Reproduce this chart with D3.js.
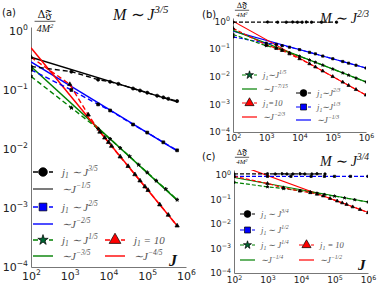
<!DOCTYPE html>
<html>
<head>
<meta charset="utf-8">
<script src="https://cdn.jsdelivr.net/npm/d3@7"></script>
<style>body{margin:0;background:#fff}</style>
</head>
<body>
<svg id="fig" width="381" height="286"></svg>
<script>
// ---- panel (a): M ~ J^{3/5}
var aJBlack = [100, 1100, 5400, 11000, 18000, 43000, 65000, 100000, 180000, 260000, 350000, 590000];
var aYBlack = [0.25, 0.205, 0.15, 0.138, 0.127, 0.106, 0.098, 0.09, 0.08, 0.075, 0.071, 0.065];
var aJBlue = [100, 1100, 5400, 11000, 43000, 100000, 260000, 590000];
var aYBlue = [0.22, 0.1, 0.057, 0.045, 0.026, 0.019, 0.013, 0.0095];
var aJGreen = [100, 1100, 5400, 11000, 20000, 35000, 60000, 100000, 170000, 300000, 590000];
var aYGreen = [0.17, 0.05, 0.022, 0.0148, 0.0104, 0.0075, 0.0054, 0.004, 0.0029, 0.0021, 0.00138];
var aJRed = [100, 1000, 3000, 6000, 8000, 10000, 12000, 20000, 32000, 48000, 65000, 87000, 105000, 210000, 350000, 590000];
var aYRed = [0.36, 0.125, 0.038, 0.0195, 0.0155, 0.013, 0.0112, 0.0074, 0.0051, 0.0037, 0.0029, 0.0023, 0.002, 0.00114, 0.00076, 0.0005];
var aFitBlack = [[100, 0.36], [590000, 0.063]];
var aFitBlue = [[100, 0.3], [590000, 0.0093]];
var aFitGreen = [[100, 0.25], [590000, 0.00136]];
var aFitRed = [[100, 0.52], [590000, 0.0005]];
var aLabels = ["j_1 ∼ J^{3/5}", "∼J^{−1/5}", "j_1 ∼ J^{2/5}", "∼J^{−2/5}", "j_1 ∼ J^{1/5}", "∼J^{−3/5}", "j_1 = 10", "∼J^{−4/5}"];

// ---- panel (b): M ~ J^{2/3}
var bJBlack = [100, 1100, 2200, 4000, 6200, 8700, 12000, 16000, 23000, 46000, 130000];
var bYBlack = [0.92, 0.93, 0.92, 0.92, 0.93, 0.92, 0.92, 0.93, 0.92, 0.92, 0.92];
var bJ = [100, 1000, 2000, 3000, 5000, 10000, 20000, 30000, 50000, 100000, 200000, 300000, 500000, 1000000];
var bYBlue = [0.27, 0.16, 0.145, 0.13, 0.115, 0.094, 0.075, 0.066, 0.055, 0.044, 0.035, 0.0305, 0.0257, 0.0204];
var bYGreen = [0.33, 0.13, 0.105, 0.09, 0.073, 0.054, 0.0396, 0.0328, 0.0259, 0.0187, 0.0135, 0.0112, 0.0088, 0.0064];
var bYRed = [0.55, 0.14, 0.105, 0.088, 0.066, 0.044, 0.029, 0.0223, 0.0159, 0.01, 0.0063, 0.0048, 0.0034, 0.00215];
var bFitBlue = [[100, 0.44], [1000000, 0.0204]];
var bFitGreen = [[100, 0.47], [1000000, 0.0064]];
var bFitRed = [[100, 1.0], [1000000, 0.00215]];
var bLabels = ["j_1∼J^{1/5}", "∼J^{−7/15}", "j_1=10", "∼J^{−2/3}", "j_1∼J^{2/3}", "j_1∼J^{1/3}", "∼J^{−1/3}"];

// ---- panel (c): M ~ J^{3/4}
var cJBlack = [100, 1000, 1700, 2700, 3800, 5700, 9300, 13000, 21000, 30000, 52000];
var cYBlack = [1.1, 1.12, 1.1, 1.12, 1.1, 1.1, 1.12, 1.1, 1.1, 1.12, 1.1];
var cJBlue = [100, 1000, 5000, 20000, 50000, 100000, 300000, 1000000];
var cYBlue = [0.88, 0.88, 0.88, 0.88, 0.88, 0.88, 0.88, 0.88];
var cJGreen = [100, 1000, 3000, 9300, 19000, 30000, 50000, 100000, 200000, 400000, 1000000];
var cYGreen = [0.5, 0.33, 0.28, 0.23, 0.2, 0.18, 0.16, 0.137, 0.116, 0.098, 0.079];
var cJRed = [100, 1000, 3000, 9300, 19000, 30000, 46000, 74000, 120000, 170000, 230000, 350000, 580000, 1000000];
var cYRed = [0.88, 0.45, 0.3, 0.22, 0.19, 0.165, 0.14, 0.11, 0.087, 0.073, 0.063, 0.05, 0.039, 0.029];
var cFitGreen = [[100, 0.79], [1000000, 0.079]];
var cFitRed = [[100, 3.0], [1000000, 0.03]];
var cLabels = ["j_1 ∼ J^{3/4}", "j_1 ∼ J^{1/2}", "j_1 ∼ J^{1/4}", "∼J^{−1/4}", "j_1 = 10", "∼J^{−1/2}"];

var xTicks = [1e2, 1e3, 1e4, 1e5, 1e6];
var yTicks = [1, 1e-1, 1e-2, 1e-3, 1e-4];

var svg = d3.select("#fig");
var RED = "#ff0000", GREEN = "#008000", BLUE = "#0000ff";

// text with _x and ^{..} parts as tspans
function rich(g, x, y, str, size, opt) {
  opt = opt || {};
  var t = g.append("text").attr("x", x).attr("y", y)
    .attr("font-size", size)
    .attr("font-family", opt.family || "DejaVu Sans")
    .attr("font-style", opt.italic ? "italic" : null)
    .attr("font-weight", opt.weight || null)
    .attr("fill", opt.fill || "#222")
    .attr("text-anchor", opt.anchor || "start");
  var re = /([_^])(\{[^}]*\}|.)|([^_^]+)/g, cur = 0, m;
  while ((m = re.exec(str))) {
    if (m[3]) { t.append("tspan").attr("dy", -cur).text(m[3]); cur = 0; }
    else {
      var s = m[1] === "^" ? -0.42 * size : 0.22 * size;
      t.append("tspan").attr("dy", s - cur).attr("font-size", size * 0.68).text(m[2].replace(/[{}]/g, ""));
      cur = s;
    }
  }
  return t;
}

function sym(g, type, cx, cy, size, fill) {
  // d3's star is drawn much bigger than the others at equal area
  var s = type === d3.symbolStar ? size * 0.55 : size;
  g.append("path")
    .attr("d", d3.symbol().type(type).size(s)())
    .attr("transform", "translate(" + cx + "," + cy + ")")
    .attr("fill", fill).attr("stroke", "#000").attr("stroke-width", 0.7);
}

function zip(js, ys) { return js.map(function(j, i) { return [j, ys[i]]; }); }

function panel(p) {
  var x = d3.scaleLog().domain([1e2, 1e6]).range([p.left, p.right]);
  var y = d3.scaleLog().domain([1e-4, p.ytop]).range([p.bottom, p.top]);
  var g = svg.append("g");

  svg.append("clipPath").attr("id", "clip" + p.name).append("rect")
    .attr("x", p.left).attr("y", p.top)
    .attr("width", p.right - p.left).attr("height", p.bottom - p.top);

  var expo = function(d) { return Math.round(Math.log10(d)); };

  var ax = g.append("g").attr("transform", "translate(0," + p.bottom + ")")
    .call(d3.axisBottom(x).tickValues(xTicks).tickSize(0).tickSizeOuter(0)
      .tickPadding(p.xpad).tickFormat(function() { return ""; }));
  var ay = g.append("g").attr("transform", "translate(" + p.left + ",0)")
    .call(d3.axisLeft(y).tickValues(yTicks).tickSize(0).tickSizeOuter(0)
      .tickPadding(3).tickFormat(function() { return ""; }));
  [ax, ay].forEach(function(a) {
    a.select(".domain").attr("stroke", "#777").attr("stroke-width", 1);
    a.selectAll(".tick text")
      .attr("font-size", p.tick).attr("font-family", "DejaVu Sans").attr("fill", "#222")
      .each(function(d) {
        var t = d3.select(this);
        t.append("tspan").text("10");
        var e = expo(d);
        t.append("tspan").attr("dy", -0.42 * p.tick).attr("font-size", p.tick * 0.7)
          .text(e < 0 ? "−" + (-e) : String(e));
      });
  });

  var line = d3.line().x(function(d) { return x(d[0]); }).y(function(d) { return y(d[1]); });
  var plot = g.append("g").attr("clip-path", "url(#clip" + p.name + ")");

  p.fits.forEach(function(f) {
    plot.append("path").attr("d", line(f.pts)).attr("fill", "none")
      .attr("stroke", f.color).attr("stroke-width", p.lw);
  });
  p.series.forEach(function(s) {
    plot.append("path").attr("d", line(s.pts)).attr("fill", "none")
      .attr("stroke", s.color).attr("stroke-width", p.lw).attr("stroke-dasharray", p.dash);
  });
  p.series.forEach(function(s) {
    s.pts.forEach(function(d) { sym(plot, s.mark, x(d[0]), y(d[1]), p.ms, "#000"); });
  });

  // legend
  p.legend.forEach(function(e) {
    var lg = g.append("g");
    lg.append("line").attr("x1", e.x).attr("x2", e.x + p.hw).attr("y1", e.y).attr("y2", e.y)
      .attr("stroke", e.color).attr("stroke-width", p.lw)
      .attr("stroke-dasharray", e.mark ? p.dash : null);
    if (e.mark) sym(lg, e.mark, e.x + p.hw / 2, e.y, p.lms, e.fill);
    rich(lg, e.x + p.hw + p.gap, e.y + p.lf * 0.35, e.label, p.lf,
      { family: "Liberation Serif", italic: true, fill: "#555" });
  });

  // labels
  rich(g, p.tagX, p.tagY, p.tag, 10, { fill: "#111" });
  rich(g, p.titleX, p.titleY, p.title, p.titleSize, { family: "Liberation Serif", italic: true, fill: "#111" });
  var fx = p.fracX, fy = p.fracY, fs = p.fracSize;
  rich(g, fx, fy, "Δ𝔉", fs, { family: "DejaVu Serif", anchor: "middle", fill: "#111" });
  g.append("line").attr("x1", fx - fs * 0.95).attr("x2", fx + fs * 0.95)
    .attr("y1", fy + fs * 0.3).attr("y2", fy + fs * 0.3).attr("stroke", "#111").attr("stroke-width", 0.7);
  rich(g, fx, fy + fs * 1.25, "4M^2", fs * 0.9, { family: "Liberation Serif", italic: true, anchor: "middle", fill: "#111" });
  if (p.jLabel) rich(g, p.jLabel[0], p.jLabel[1], "J", p.jLabel[2],
    { family: "Liberation Serif", italic: true, weight: "bold", fill: "#111" });
}

panel({
  name: "a", left: 31, right: 186, top: 27, bottom: 267, ytop: 1.17,
  tick: 11, xpad: 5, lw: 1.4, dash: "5,3", ms: 8, lms: 60, hw: 20, gap: 9, lf: 11,
  fits: [
    { pts: aFitBlack, color: "#000" }, { pts: aFitBlue, color: BLUE },
    { pts: aFitGreen, color: GREEN }, { pts: aFitRed, color: RED }
  ],
  series: [
    { pts: zip(aJBlack, aYBlack), color: "#000", mark: d3.symbolCircle },
    { pts: zip(aJBlue, aYBlue), color: BLUE, mark: d3.symbolSquare },
    { pts: zip(aJGreen, aYGreen), color: GREEN, mark: d3.symbolStar },
    { pts: zip(aJRed, aYRed), color: RED, mark: d3.symbolTriangle }
  ],
  legend: [
    { x: 33, y: 172, label: aLabels[0], color: "#000", mark: d3.symbolCircle, fill: "#000" },
    { x: 33, y: 189, label: aLabels[1], color: "#444" },
    { x: 33, y: 207, label: aLabels[2], color: BLUE, mark: d3.symbolSquare, fill: BLUE },
    { x: 33, y: 224, label: aLabels[3], color: BLUE },
    { x: 33, y: 240, label: aLabels[4], color: GREEN, mark: d3.symbolStar, fill: "#063" },
    { x: 33, y: 256, label: aLabels[5], color: GREEN },
    { x: 105, y: 240, label: aLabels[6], color: RED, mark: d3.symbolTriangle, fill: RED },
    { x: 105, y: 256, label: aLabels[7], color: RED }
  ],
  tag: "(a)", tagX: 2, tagY: 16,
  title: "M ∼ J^{3/5}", titleX: 113, titleY: 20, titleSize: 16,
  fracX: 45, fracY: 18, fracSize: 11,
  jLabel: [169, 266, 16]
});

panel({
  name: "b", left: 233, right: 366, top: 18, bottom: 132, ytop: 1.3,
  tick: 9, xpad: 3, lw: 1.2, dash: "4,2", ms: 5, lms: 36, hw: 15, gap: 6, lf: 8.5,
  fits: [
    { pts: bFitBlue, color: BLUE }, { pts: bFitGreen, color: GREEN }, { pts: bFitRed, color: RED }
  ],
  series: [
    { pts: zip(bJBlack, bYBlack), color: "#000", mark: d3.symbolCircle },
    { pts: zip(bJ, bYBlue), color: BLUE, mark: d3.symbolSquare },
    { pts: zip(bJ, bYGreen), color: GREEN, mark: d3.symbolStar },
    { pts: zip(bJ, bYRed), color: RED, mark: d3.symbolTriangle }
  ],
  legend: [
    { x: 242, y: 75, label: bLabels[0], color: GREEN, mark: d3.symbolStar, fill: "#063" },
    { x: 242, y: 89, label: bLabels[1], color: GREEN },
    { x: 242, y: 103, label: bLabels[2], color: RED, mark: d3.symbolTriangle, fill: RED },
    { x: 242, y: 117, label: bLabels[3], color: RED },
    { x: 296, y: 93, label: bLabels[4], color: "#000", mark: d3.symbolCircle, fill: "#000" },
    { x: 296, y: 107, label: bLabels[5], color: BLUE, mark: d3.symbolSquare, fill: BLUE },
    { x: 296, y: 120, label: bLabels[6], color: BLUE }
  ],
  tag: "(b)", tagX: 202, tagY: 18,
  title: "M ∼ J^{2/3}", titleX: 320, titleY: 23, titleSize: 14,
  fracX: 242, fracY: 8, fracSize: 7.5
});

panel({
  name: "c", left: 234, right: 368, top: 170, bottom: 273, ytop: 1.6,
  tick: 9, xpad: 4, lw: 1.2, dash: "4,2", ms: 5, lms: 36, hw: 15, gap: 6, lf: 8.5,
  fits: [
    { pts: cFitGreen, color: GREEN }, { pts: cFitRed, color: RED }
  ],
  series: [
    { pts: zip(cJBlack, cYBlack), color: "#000", mark: d3.symbolCircle },
    { pts: zip(cJBlue, cYBlue), color: BLUE, mark: d3.symbolSquare },
    { pts: zip(cJGreen, cYGreen), color: GREEN, mark: d3.symbolStar },
    { pts: zip(cJRed, cYRed), color: RED, mark: d3.symbolTriangle }
  ],
  legend: [
    { x: 240, y: 214, label: cLabels[0], color: "#000", mark: d3.symbolCircle, fill: "#000" },
    { x: 240, y: 230, label: cLabels[1], color: BLUE, mark: d3.symbolSquare, fill: BLUE },
    { x: 240, y: 245, label: cLabels[2], color: GREEN, mark: d3.symbolStar, fill: "#063" },
    { x: 240, y: 260, label: cLabels[3], color: GREEN },
    { x: 299, y: 245, label: cLabels[4], color: RED, mark: d3.symbolTriangle, fill: RED },
    { x: 299, y: 260, label: cLabels[5], color: RED }
  ],
  tag: "(c)", tagX: 202, tagY: 160,
  title: "M ∼ J^{3/4}", titleX: 320, titleY: 166, titleSize: 14,
  fracX: 242, fracY: 155, fracSize: 7.5,
  jLabel: [358, 270, 15]
});
</script>
</body>
</html>
